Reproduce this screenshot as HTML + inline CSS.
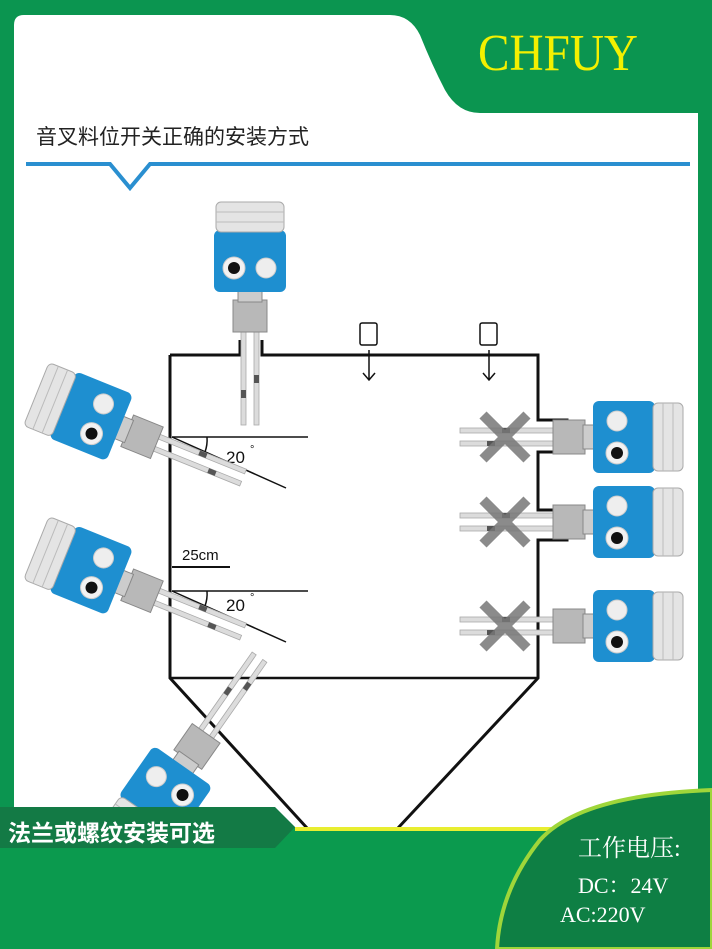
<!DOCTYPE html>
<html><head><meta charset="utf-8"><style>
html,body{margin:0;padding:0;width:712px;height:949px;overflow:hidden;background:#0b9550}
svg{display:block}
</style></head><body>
<svg width="712" height="949" viewBox="0 0 712 949" xmlns="http://www.w3.org/2000/svg">
<defs>
<g id="inst">
  <rect x="0" y="-9" width="95" height="5" fill="#dcdcdc" stroke="#aaa" stroke-width="0.8"/>
  <rect x="0" y="4" width="95" height="5" fill="#dcdcdc" stroke="#aaa" stroke-width="0.8"/>
  <rect x="45" y="-9" width="8" height="5" fill="#555"/>
  <rect x="60" y="4" width="8" height="5" fill="#555"/>
  <rect x="-30" y="-17" width="32" height="34" fill="#b8b8b8" stroke="#888"/>
  <rect x="-40" y="-12" width="12" height="24" fill="#ccc" stroke="#888"/>
  <rect x="-100" y="-36" width="62" height="72" rx="6" fill="#1e8fd0"/>
  <circle cx="-62" cy="-16" r="10" fill="#eee" stroke="#ccc"/>
  <circle cx="-62" cy="16" r="11" fill="#f2f2f2" stroke="#ccc"/>
  <circle cx="-62" cy="16" r="6" fill="#111"/>
  <rect x="-128" y="-34" width="30" height="68" rx="5" fill="#e4e4e4" stroke="#aaa"/>
  <line x1="-118" y1="-34" x2="-118" y2="34" stroke="#bbb"/>
  <line x1="-108" y1="-34" x2="-108" y2="34" stroke="#bbb"/>
</g>
<g id="xx"><path d="M-22,-22 L22,22 M22,-22 L-22,22" stroke="#777" stroke-width="10" opacity="0.85"/></g>
</defs>
<path d="M24,15 H390 Q410,15 420,35 Q432,65 445,90 Q458,113 480,113 H698 V827 H14 V25 Q14,15 24,15 Z" fill="#fff"/>
<text x="478" y="70" font-family="Liberation Serif, serif" font-size="52" fill="#f4f000" textLength="160" lengthAdjust="spacingAndGlyphs">CHFUY</text>
<text x="36" y="144" font-family="Liberation Sans, 'Noto Sans CJK SC', sans-serif" font-size="21" fill="#222">音叉料位开关正确的安装方式</text>
<path d="M26,164 H110 L130,188 L150,164 H690" fill="none" stroke="#2a8fd0" stroke-width="4"/>
<g stroke="#111" stroke-width="3" fill="none">
  <path d="M170,355 H240 V340 M262,340 V355 H538 V420 H567 V452 H538 V510 H567 V540 H538 V678 L398,828"/>
  <path d="M170,355 V678 L307,828"/>
  <line x1="170" y1="678" x2="538" y2="678" stroke-width="2.5"/>
</g>
<g stroke="#111" stroke-width="1.5" fill="none">
  <line x1="172" y1="437" x2="308" y2="437"/>
  <line x1="172" y1="437" x2="286" y2="488"/>
  <path d="M207,437 A36,36 0 0 1 205,452"/>
  <line x1="172" y1="591" x2="308" y2="591"/>
  <line x1="172" y1="591" x2="286" y2="642"/>
  <path d="M207,591 A36,36 0 0 1 205,606"/>
  <line x1="172" y1="567" x2="230" y2="567" stroke-width="2"/>
  <rect x="360" y="323" width="17" height="22" rx="2"/>
  <path d="M369,350 V380 M363,373 L369,380 L375,373"/>
  <rect x="480" y="323" width="17" height="22" rx="2"/>
  <path d="M489,350 V380 M483,373 L489,380 L495,373"/>
</g>
<g font-family="Liberation Sans, sans-serif" fill="#111">
  <text x="226" y="463" font-size="17">20</text><text x="250" y="453" font-size="11">°</text>
  <text x="226" y="611" font-size="17">20</text><text x="250" y="601" font-size="11">°</text>
  <text x="182" y="560" font-size="15">25cm</text>
</g>
<use href="#inst" transform="translate(250,330) rotate(90)"/>
<use href="#inst" transform="translate(155,442) rotate(22)"/>
<use href="#inst" transform="translate(155,596) rotate(22)"/>
<use href="#inst" transform="translate(205,735) rotate(-55)"/>
<use href="#inst" transform="translate(555,437) scale(-1,1)"/>
<use href="#inst" transform="translate(555,522) scale(-1,1)"/>
<use href="#inst" transform="translate(555,626) scale(-1,1)"/>
<use href="#xx" transform="translate(505,437)"/>
<use href="#xx" transform="translate(505,522)"/>
<use href="#xx" transform="translate(505,626)"/>
<rect x="0" y="828" width="712" height="121" fill="#0b9a4e"/>
<line x1="295" y1="829" x2="560" y2="829" stroke="#e8ee30" stroke-width="4"/>
<path d="M0,807 H275 L295,827 L275,848 H0 Z" fill="#137a45"/>
<text x="8" y="841" font-family="Liberation Sans, 'Noto Sans CJK SC', sans-serif" font-size="23" font-weight="bold" fill="#fff">法兰或螺纹安装可选</text>
<path d="M712,790 Q580,795 540,840 Q500,890 497,949 H712 Z" fill="#0e7f44" stroke="#9fd63a" stroke-width="4"/>
<g font-family="Liberation Serif, 'Noto Serif CJK SC', serif" fill="#fff">
  <text x="578" y="856" font-size="24">工作电压:</text>
  <text x="578" y="893" font-size="22">DC：24V</text>
  <text x="560" y="922" font-size="22">AC:220V</text>
</g>
</svg>
</body></html>
